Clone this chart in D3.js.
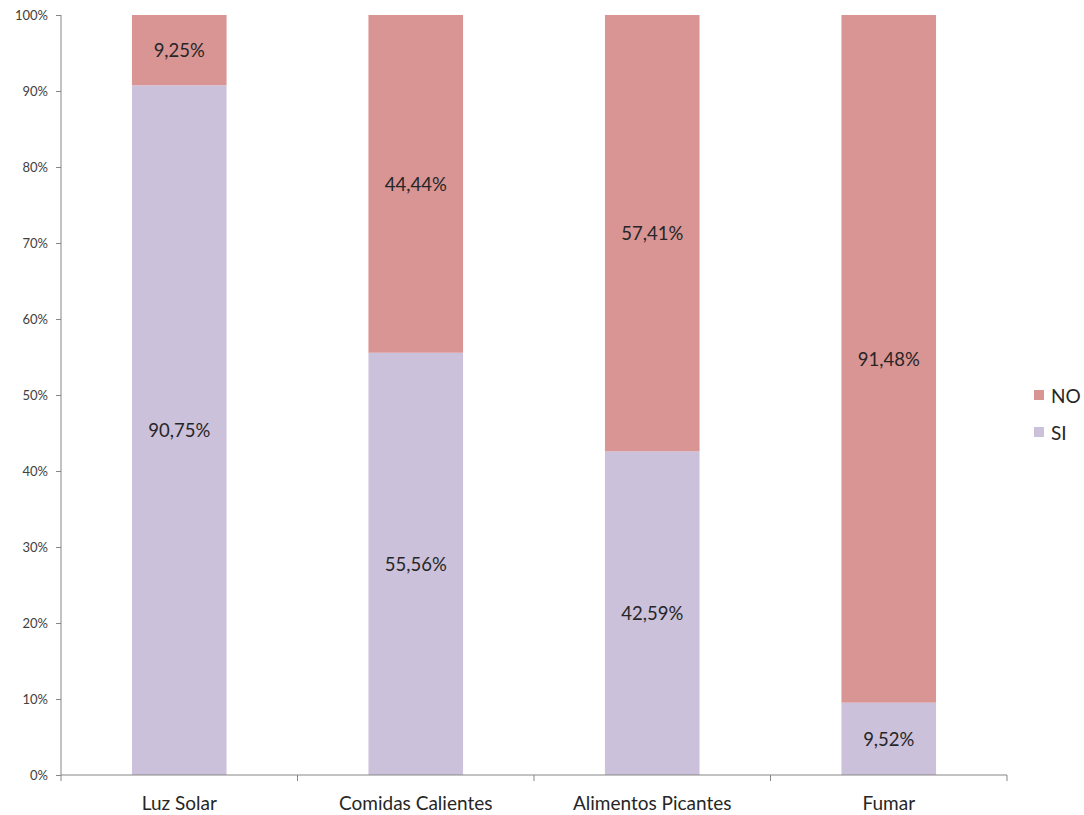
<!DOCTYPE html>
<html><head><meta charset="utf-8">
<script src="https://cdn.jsdelivr.net/npm/d3@7"></script>
<style>body{margin:0;background:#fff}svg{display:block}</style>
</head><body><svg id="c" width="1084" height="815"></svg>
<script>
const categories = ["Luz Solar","Comidas Calientes","Alimentos Picantes","Fumar"];
const siValues = [90.75, 55.56, 42.59, 9.52];
const noValues = [9.25, 44.44, 57.41, 91.48];
const siLabels = ["90,75%","55,56%","42,59%","9,52%"];
const noLabels = ["9,25%","44,44%","57,41%","91,48%"];
const yTicks = [0,10,20,30,40,50,60,70,80,90,100];
const seriesNames = ["NO","SI"];
const colors = {NO:"#D99594", SI:"#CCC1DA"};

const font = "Lato, 'Open Sans', sans-serif";
const svg = d3.select("#c");
const mLeft = 61, mRight = 1007, mTop = 15, mBottom = 775;
const x = d3.scaleBand().domain(categories).range([mLeft, mRight]).paddingInner(0.6).paddingOuter(0.3);
const xb = d3.scaleBand().domain(categories).range([mLeft, mRight]);
const y = d3.scaleLinear().domain([0,100]).range([mBottom, mTop]);

const data = categories.map((c,i)=>({c, si:siValues[i], no:noValues[i], sl:siLabels[i], nl:noLabels[i]}));

const g = svg.append("g");
data.forEach(d=>{
  const noTop = Math.min(100, d.si + d.no);
  g.append("rect").attr("x", x(d.c)).attr("width", x.bandwidth())
    .attr("y", y(d.si)).attr("height", y(0)-y(d.si)).attr("fill", colors.SI);
  g.append("rect").attr("x", x(d.c)).attr("width", x.bandwidth())
    .attr("y", y(noTop)).attr("height", y(d.si)-y(noTop)).attr("fill", colors.NO);
  g.append("text").attr("x", x(d.c)+x.bandwidth()/2).attr("y", y(d.si/2))
    .attr("text-anchor","middle").attr("dominant-baseline","central")
    .attr("font-family",font).attr("font-size",18.5).attr("fill","#262626").text(d.sl);
  g.append("text").attr("x", x(d.c)+x.bandwidth()/2).attr("y", y((d.si+noTop)/2))
    .attr("text-anchor","middle").attr("dominant-baseline","central")
    .attr("font-family",font).attr("font-size",18.5).attr("fill","#262626").text(d.nl);
});

const yAxis = d3.axisLeft(y).tickValues(yTicks).tickSize(5).tickPadding(8).tickFormat(d=>d+"%");
const ya = svg.append("g").attr("transform",`translate(${mLeft},0)`).call(yAxis);
ya.select(".domain").attr("stroke","#868686").attr("d",`M0,${mTop}V${mBottom}`);
ya.selectAll(".tick line").attr("stroke","#868686");
ya.selectAll("text").attr("font-family",font).attr("font-size",13).attr("fill","#404040");

const xa = svg.append("g").attr("transform",`translate(0,${mBottom})`);
xa.append("line").attr("x1",mLeft).attr("x2",mRight).attr("y1",0).attr("y2",0).attr("stroke","#868686");
const bounds = categories.map(c=>xb(c)).concat([mRight]);
xa.selectAll(".tk").data(bounds).join("line").attr("class","tk").attr("x1",d=>d).attr("x2",d=>d).attr("y1",0).attr("y2",6).attr("stroke","#868686");
xa.selectAll(".lbl").data(categories).join("text").attr("class","lbl")
  .attr("x",d=>xb(d)+xb.bandwidth()/2).attr("y",35).attr("text-anchor","middle")
  .attr("font-family",font).attr("font-size",19).attr("fill","#262626").text(d=>d);

const lg = svg.append("g");
seriesNames.forEach((s,i)=>{
  const cy = 395 + i*37;
  lg.append("rect").attr("x",1034).attr("y",cy-5).attr("width",10).attr("height",10).attr("fill",colors[s]);
  lg.append("text").attr("x",1051).attr("y",cy).attr("dominant-baseline","central")
    .attr("font-family",font).attr("font-size",19).attr("fill","#262626").text(s);
});
</script></body></html>
